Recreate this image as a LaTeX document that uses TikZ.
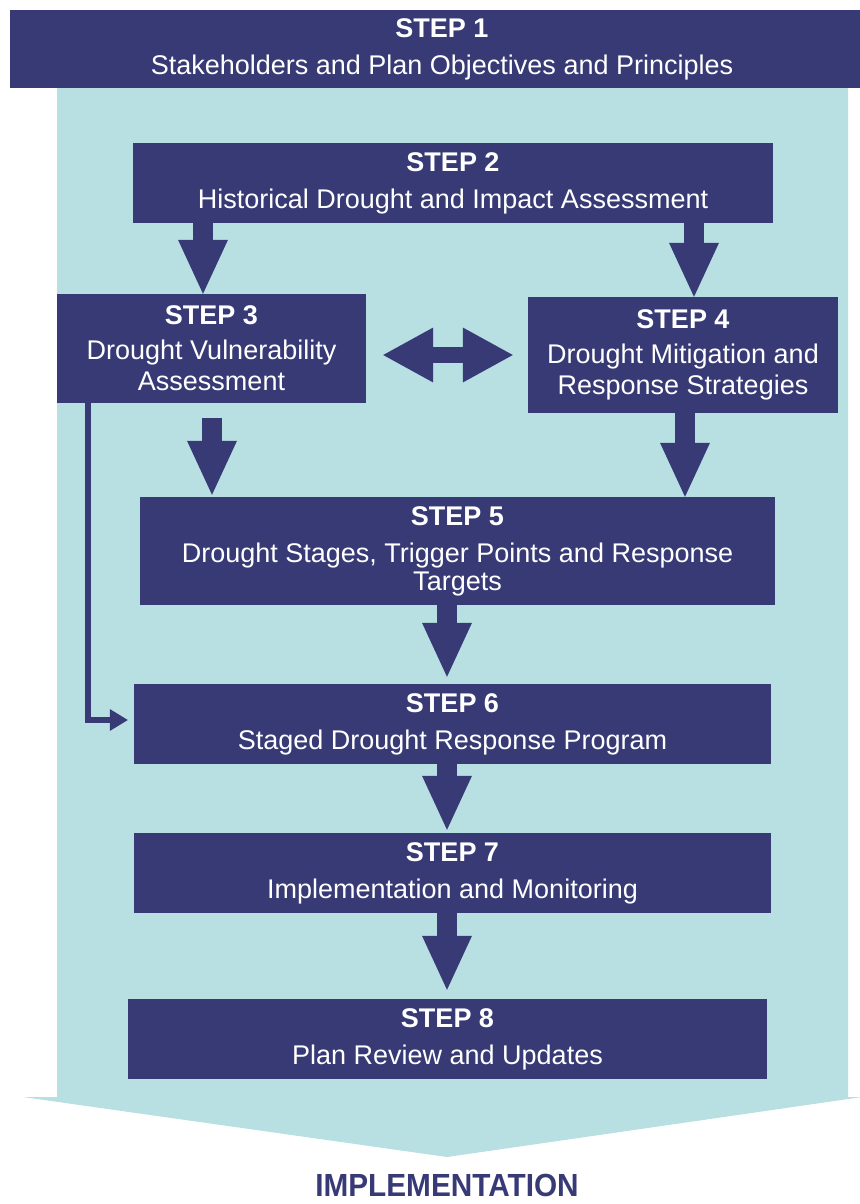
\documentclass[tikz,border=0pt]{standalone}
\usepackage{fontspec}
\setmainfont{Liberation Sans}
\newfontfamily\implfont{Liberation Sans}[FakeStretch=0.93]
\usetikzlibrary{arrows.meta}
\definecolor{navy}{RGB}{56,58,118}
\definecolor{panel}{RGB}{184,224,227}
\begin{document}
\begin{tikzpicture}[x=1pt,y=-1pt,
  stepbox/.style={fill=navy, text=white, inner sep=0pt, align=center,
    font={\fontsize{27}{31}\selectfont}},
  blk/.style={draw=navy, line width=20pt,
    -{Triangle[width=50pt,length=54pt,line width=0pt]}},
  dbl/.style={draw=navy, line width=16pt,
    {Triangle[width=55pt,length=50pt,line width=0pt]}-{Triangle[width=55pt,length=50pt,line width=0pt]}},
  thin/.style={draw=navy, line width=6pt,
    -{Triangle[width=22pt,length=18pt,line width=0pt]}}
]
\useasboundingbox (0,0) rectangle (859,1204);
\fill[white] (0,0) rectangle (859,1204);
% light blue panel with chevron bottom
\fill[panel] (57,88) -- (848,88) -- (848,1097) -- (862,1097) -- (447,1157)
  -- (23,1097) -- (57,1097) -- cycle;

% step boxes
\node[stepbox, minimum width=864pt, minimum height=78pt] (s1) at (442,49)
  {\textbf{STEP 1}\\[6pt]Stakeholders and Plan Objectives and Principles};
\node[stepbox, minimum width=640pt, minimum height=80pt] (s2) at (453,183)
  {\textbf{STEP 2}\\[6pt]Historical Drought and Impact Assessment};
\node[stepbox, minimum width=309pt, minimum height=109pt] (s3) at (211.5,348.5)
  {\textbf{STEP 3}\\[4pt]Drought Vulnerability\\Assessment};
\node[stepbox, minimum width=310pt, minimum height=116pt] (s4) at (683,355)
  {\textbf{STEP 4}\\[4pt]Drought Mitigation and\\Response Strategies};
\node[stepbox, minimum width=635pt, minimum height=108pt] (s5) at (457.5,551)
  {\textbf{STEP 5}\\[6pt]Drought Stages, Trigger Points and Response\\[-3pt]Targets};
\node[stepbox, minimum width=637pt, minimum height=80pt] (s6) at (452.5,724)
  {\textbf{STEP 6}\\[6pt]Staged Drought Response Program};
\node[stepbox, minimum width=637pt, minimum height=80pt] (s7) at (452.5,873)
  {\textbf{STEP 7}\\[6pt]Implementation and Monitoring};
\node[stepbox, minimum width=639pt, minimum height=80pt] (s8) at (447.5,1039)
  {\textbf{STEP 8}\\[6pt]Plan Review and Updates};

\node[anchor=base, text=navy, inner sep=0pt,
  font={\implfont\bfseries\fontsize{32}{36}\selectfont}] (impl) at (447,1196) {IMPLEMENTATION};

% helper coordinates for arrow positions
\coordinate (x23) at (203,0);
\coordinate (x24) at (694,0);
\coordinate (x35) at (212,0);
\coordinate (x45) at (685,0);
\coordinate (x56) at (447,0);
\coordinate (xl) at (88,0);
\coordinate (y34) at (0,355);
\coordinate (yl) at (0,720);

% block arrows
\draw[blk] (s2.south -| x23) -- (s3.north -| x23);
\draw[blk] (s2.south -| x24) -- (s4.north -| x24);
\draw[blk, shorten <=15pt, shorten >=2pt] (s3.south -| x35) -- (s5.north -| x35);
\draw[blk] (s4.south -| x45) -- (s5.north -| x45);
\draw[blk, shorten >=7pt] (s5.south -| x56) -- (s6.north -| x56);
\draw[blk, shorten >=3pt] (s6.south -| x56) -- (s7.north -| x56);
\draw[blk, shorten >=9pt] (s7.south -| x56) -- (s8.north -| x56);
\draw[dbl, shorten <=17pt, shorten >=15pt] (s3.east |- y34) -- (s4.west |- y34);
\draw[thin, shorten >=6pt] (s3.south -| xl) |- (s6.west |- yl);
\end{tikzpicture}
\end{document}
